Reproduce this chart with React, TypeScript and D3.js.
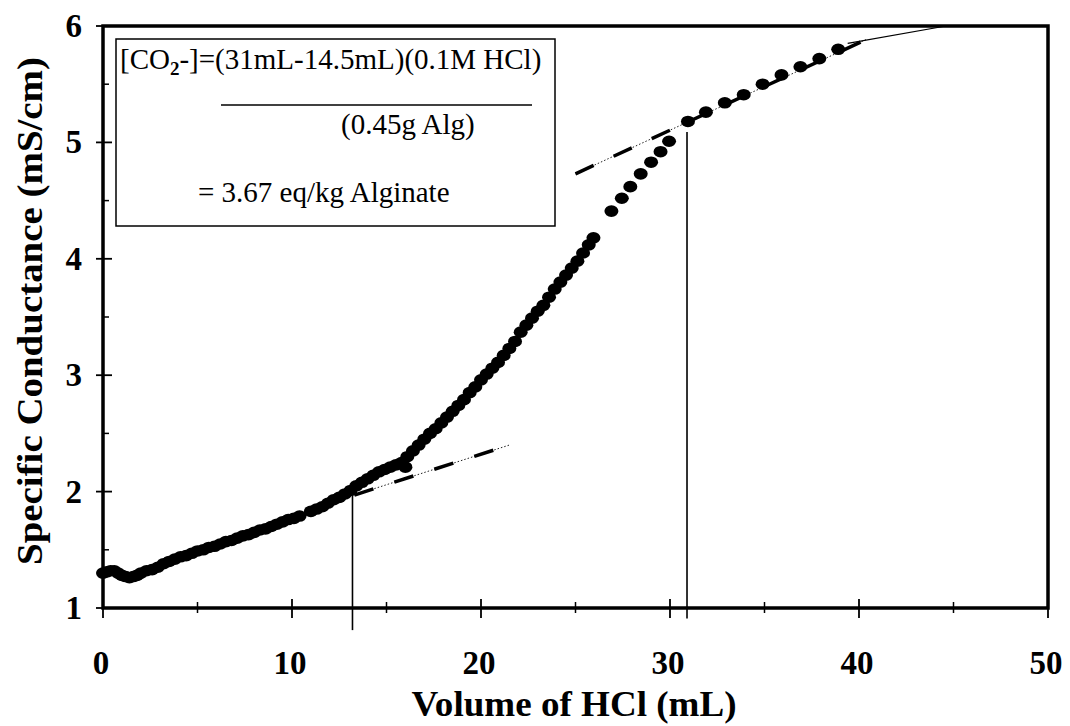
import React from 'react';
import * as d3 from 'd3';

// titration readings
const volume = [
  0, 0.2, 0.4, 0.6, 0.8, 1.0, 1.2, 1.4, 1.6, 1.8, 2.0, 2.3, 2.6, 2.9, 3.2, 3.5, 3.8, 4.1, 4.4, 4.7,
  5.0, 5.3, 5.6, 5.9, 6.2, 6.5, 6.8, 7.1, 7.4, 7.7, 8.0, 8.3, 8.6, 8.9, 9.2, 9.5, 9.8, 10.1, 10.4,
  11.0, 11.3, 11.6, 11.9, 12.2, 12.5, 12.8, 13.1, 13.4, 13.7, 14.0, 14.3, 14.6, 14.9, 15.2, 15.5,
  15.8, 16.0, 16.1, 16.4, 16.7, 17.0, 17.3, 17.6, 17.9, 18.2, 18.5, 18.8, 19.1, 19.4, 19.7, 20.0,
  20.3, 20.6, 20.9, 21.2, 21.5, 21.8, 22.1, 22.4, 22.7, 23.0, 23.3, 23.6, 23.9, 24.2, 24.5, 24.8,
  25.1, 25.4, 25.7, 25.95, 26.9, 27.45, 27.9, 28.45, 29.0, 29.5, 29.95, 30.95, 31.9, 32.9, 33.9,
  34.9, 35.9, 36.9, 37.9, 38.9,
];
const conductance = [
  1.30, 1.31, 1.32, 1.32, 1.30, 1.28, 1.27, 1.26, 1.27, 1.28, 1.30, 1.32, 1.33, 1.35, 1.38, 1.40,
  1.42, 1.44, 1.45, 1.47, 1.49, 1.50, 1.52, 1.53, 1.55, 1.57, 1.58, 1.60, 1.62, 1.63, 1.65, 1.67,
  1.68, 1.70, 1.72, 1.74, 1.76, 1.77, 1.79, 1.83, 1.85, 1.87, 1.90, 1.93, 1.95, 1.98, 2.01, 2.05,
  2.08, 2.11, 2.14, 2.17, 2.19, 2.21, 2.23, 2.25, 2.21, 2.30, 2.35, 2.40, 2.45, 2.50, 2.54, 2.59,
  2.64, 2.69, 2.74, 2.79, 2.85, 2.90, 2.96, 3.01, 3.06, 3.11, 3.17, 3.23, 3.29, 3.37, 3.43, 3.49,
  3.55, 3.60, 3.67, 3.74, 3.80, 3.86, 3.92, 3.98, 4.05, 4.12, 4.18, 4.41, 4.52, 4.62, 4.73, 4.83,
  4.92, 5.01, 5.18, 5.26, 5.34, 5.41, 5.50, 5.58, 5.65, 5.72, 5.80,
];

// fitted lines and end points
const lowerTangentX = [13.3, 21.5];
const lowerTangentY = [1.97, 2.4];
const upperTangentX = [25.0, 40.4];
const upperTangentY = [4.73, 5.885];
const plateauX = [39.4, 44.6];
const plateauY = [5.85, 6.0];
const endpointX = [13.2, 30.9];
const endpointTop = [1.97, 5.09];
const endpointBottom = [0.81, 0.91];

const xTicks = [0, 10, 20, 30, 40, 50];
const xMinor = [5, 15, 25, 35, 45];
const yTicks = [1, 2, 3, 4, 5, 6];
const yMinor = [1.5, 2.5, 3.5, 4.5, 5.5];

const serif = '"Liberation Serif", "Times New Roman", serif';

const App = () => {
  const x = d3.scaleLinear().domain([0, 50]).range([103, 1048]);
  const y = d3.scaleLinear().domain([1, 6]).range([608, 26]);

  const line = d3
    .line<number[]>()
    .x((d) => x(d[0]))
    .y((d) => y(d[1]));

  const pts = (xs: number[], ys: number[]) => xs.map((v, i) => [v, ys[i]]);

  const dashed = (xs: number[], ys: number[], key: string) => (
    <g key={key}>
      <path d={line(pts(xs, ys)) || ''} stroke="#222" strokeWidth={1} strokeDasharray="1.5 2" fill="none" />
      <path d={line(pts(xs, ys)) || ''} stroke="#000" strokeWidth={3.5} strokeDasharray="20 22" fill="none" />
    </g>
  );

  return (
    <svg
      width={1070}
      height={726}
      style={{ position: 'absolute', left: 0, top: 0, background: '#fff', display: 'block' }}
      fontFamily={serif}
    >
      <rect width={1070} height={726} fill="#fff" />

      {/* annotation box */}
      <rect x={116} y={39} width={439} height={187} fill="none" stroke="#000" strokeWidth={1.5} />
      <text x={120} y={69} fontSize={29}>
        [CO
        <tspan fontSize={19} fontWeight="bold" baselineShift="-30%">2</tspan>
        -]=(31mL-14.5mL)(0.1M HCl)
      </text>
      <line x1={221} x2={532} y1={105} y2={105} stroke="#000" strokeWidth={1.5} />
      <text x={341} y={134} fontSize={29}>
        (0.45g Alg)
      </text>
      <text x={198} y={202} fontSize={29}>
        = 3.67 eq/kg Alginate
      </text>

      {/* tangent lines */}
      {dashed(lowerTangentX, lowerTangentY, 'lower')}
      {dashed(upperTangentX, upperTangentY, 'upper')}
      <path d={line(pts(plateauX, plateauY)) || ''} stroke="#000" strokeWidth={1.2} fill="none" />

      {/* end point markers */}
      {endpointX.map((v, i) => (
        <line
          key={'ep' + i}
          x1={x(v)}
          x2={x(v)}
          y1={y(endpointTop[i])}
          y2={y(endpointBottom[i])}
          stroke="#000"
          strokeWidth={1.6}
        />
      ))}

      {/* data */}
      {volume.map((v, i) => (
        <ellipse key={'p' + i} cx={x(v)} cy={y(conductance[i])} rx={7} ry={5.8} fill="#000" />
      ))}

      {/* frame */}
      <rect x={103} y={26} width={945} height={582} fill="none" stroke="#000" strokeWidth={3.5} />

      {/* y axis */}
      {yTicks.map((t) => (
        <g key={'yt' + t}>
          <line x1={96} x2={112} y1={y(t)} y2={y(t)} stroke="#000" strokeWidth={1.8} />
          <text x={82} y={y(t) + 11} fontSize={33} fontWeight="bold" textAnchor="end">
            {t}
          </text>
        </g>
      ))}
      {yMinor.map((t) => (
        <line key={'ym' + t} x1={103} x2={109} y1={y(t)} y2={y(t)} stroke="#000" strokeWidth={1.5} />
      ))}

      {/* x axis */}
      {xTicks.map((t) => (
        <g key={'xt' + t}>
          <line x1={x(t)} x2={x(t)} y1={599} y2={618} stroke="#000" strokeWidth={1.8} />
          <text x={x(t) - 2} y={674} fontSize={33} fontWeight="bold" textAnchor="middle">
            {t}
          </text>
        </g>
      ))}
      {xMinor.map((t) => (
        <line key={'xm' + t} x1={x(t)} x2={x(t)} y1={602} y2={613} stroke="#000" strokeWidth={1.5} />
      ))}

      <text x={574} y={716} fontSize={36} fontWeight="bold" textAnchor="middle" textLength={325} lengthAdjust="spacingAndGlyphs">
        Volume of HCl (mL)
      </text>
      <text
        transform="translate(42,311) rotate(-90)"
        fontSize={36}
        fontWeight="bold"
        textAnchor="middle"
        textLength={508}
        lengthAdjust="spacingAndGlyphs"
      >
        Specific Conductance (mS/cm)
      </text>
    </svg>
  );
};

export default App;
